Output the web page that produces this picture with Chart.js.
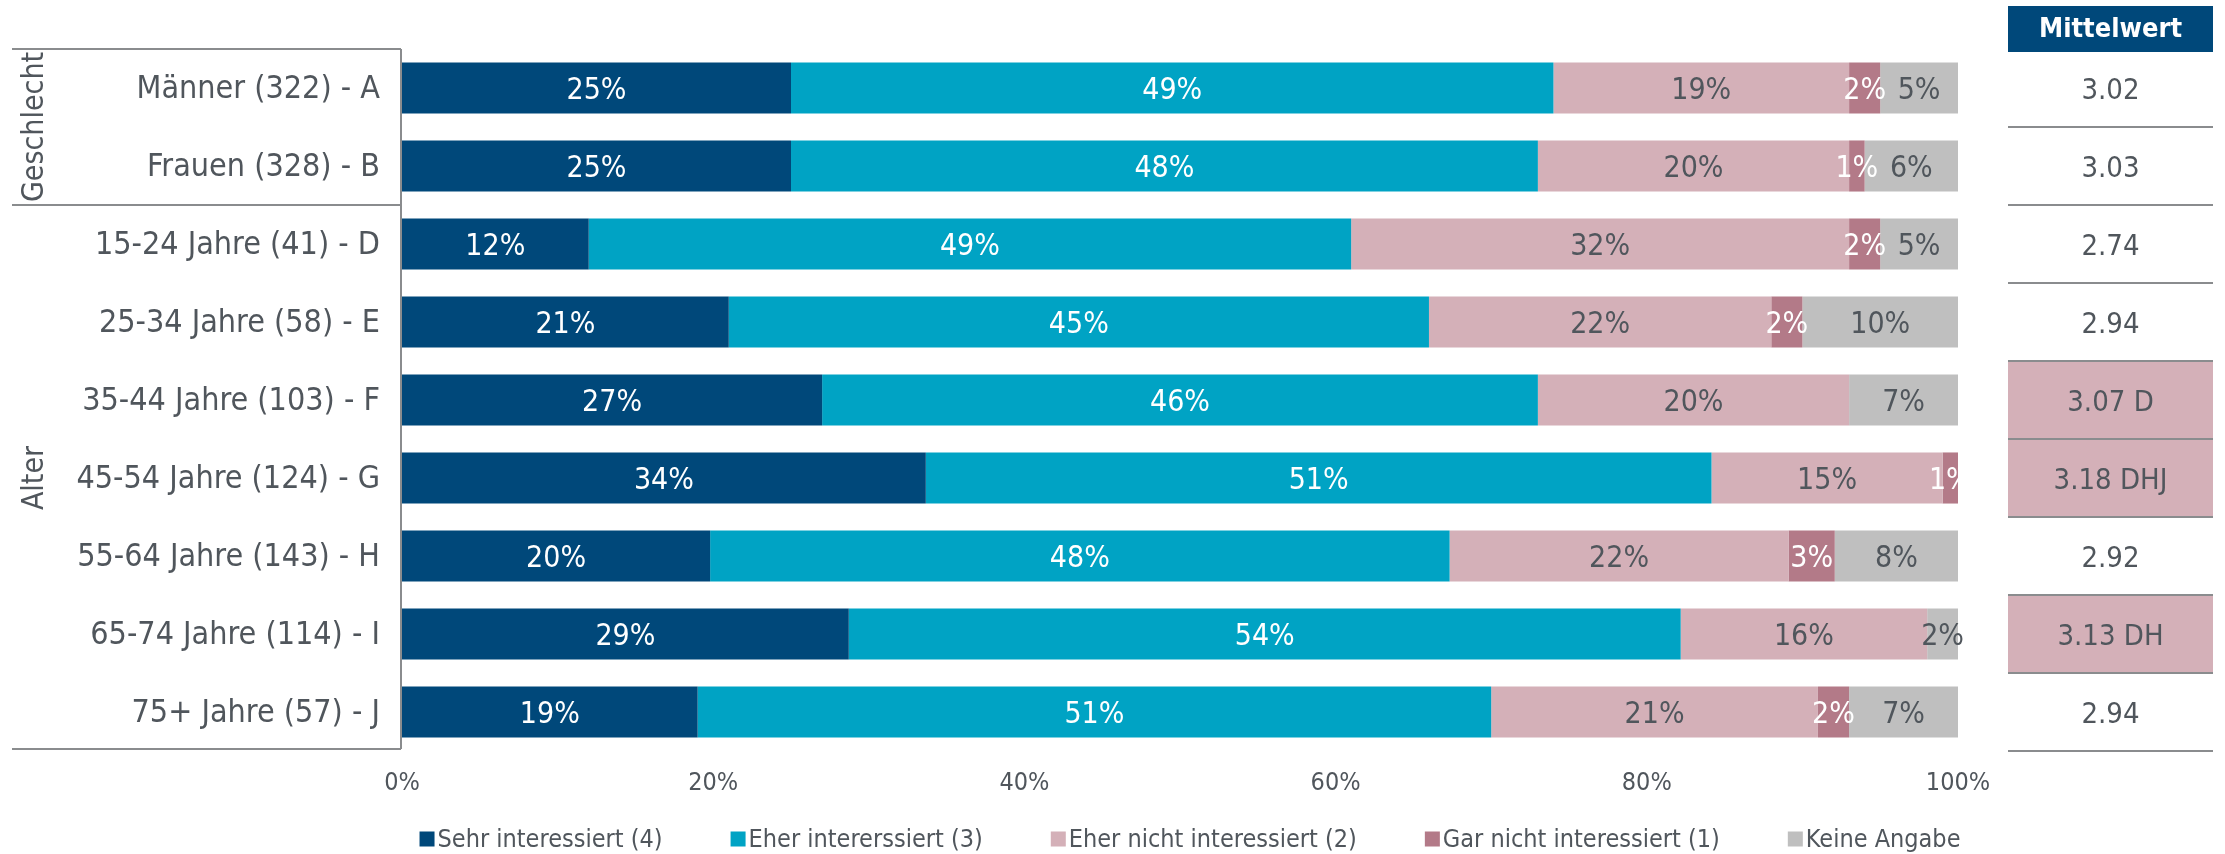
<!DOCTYPE html>
<html lang="de">
<head>
<meta charset="utf-8">
<title>Interesse nach Geschlecht und Alter</title>
<script src="https://cdn.jsdelivr.net/npm/chart.js@4.4.0/dist/chart.umd.min.js"></script>
<style>
  html, body { margin: 0; padding: 0; background: #fff; }
  #wrap { width: 2225px; height: 854px; }
</style>
</head>
<body>
<div id="wrap"><canvas id="stacked-bar" width="2225" height="854"></canvas></div>
<script>
// Data
var categories = ["Männer (322) - A", "Frauen (328) - B", "15-24 Jahre (41) - D", "25-34 Jahre (58) - E",
    "35-44 Jahre (103) - F", "45-54 Jahre (124) - G", "55-64 Jahre (143) - H", "65-74 Jahre (114) - I", "75+ Jahre (57) - J"];
var sehr      = [25, 25, 12, 21, 27, 34, 20, 29, 19];
var eher      = [49, 48, 49, 45, 46, 51, 48, 54, 51];
var eherNicht = [19, 20, 32, 22, 20, 15, 22, 16, 21];
var garNicht  = [2, 1, 2, 2, 0, 1, 3, 0, 2];
var keine     = [5, 6, 5, 10, 7, 0, 8, 2, 7];
var seriesNames = ["Sehr interessiert (4)", "Eher intererssiert (3)", "Eher nicht interessiert (2)", "Gar nicht interessiert (1)", "Keine Angabe"];
var mittelwert = ["3.02", "3.03", "2.74", "2.94", "3.07", "3.18", "2.92", "3.13", "2.94"];
var signifikant = ["", "", "", "", "D", "DHJ", "", "DH", ""];
var groupNames = ["Geschlecht", "Alter"];
var groupFirst = [0, 2];
var groupLast  = [1, 8];
var xTicks = [0, 20, 40, 60, 80, 100];

(function () {
    "use strict";

    var FONT = "'DejaVu Sans Condensed', 'DejaVu Sans', sans-serif";
    var TEXT = "#50565c";
    var LINE = "#8a8c8e";
    var colors = ["#00487a", "#00a3c4", "#d4b0b8", "#b37a88", "#bfbfbf"];
    var labelColors = ["#ffffff", "#ffffff", TEXT, "#ffffff", TEXT];
    var series = [sehr, eher, eherNicht, garNicht, keine];

    // rows add up to 100 or 101 after rounding, scale each row to 100
    var rowSums = categories.map(function (c, i) {
        return series.reduce(function (s, arr) { return s + arr[i]; }, 0);
    });

    var datasets = series.map(function (arr, d) {
        return {
            label: seriesNames[d],
            data: arr.map(function (v, i) { return v / rowSums[i] * 100; }),
            raw: arr,
            backgroundColor: colors[d],
            borderWidth: 0,
            barPercentage: 0.655,
            categoryPercentage: 1
        };
    });

    // Data labels
    var dataLabels = {
        id: "dataLabels",
        afterDatasetsDraw: function (chart) {
            var ctx = chart.ctx;
            ctx.save();
            ctx.font = "30px " + FONT;
            ctx.textAlign = "center";
            ctx.textBaseline = "middle";
            chart.data.datasets.forEach(function (ds, d) {
                chart.getDatasetMeta(d).data.forEach(function (bar, i) {
                    if (!ds.raw[i]) return;
                    ctx.fillStyle = labelColors[d];
                    ctx.fillText(ds.raw[i] + "%", (bar.x + bar.base) / 2, bar.y + 3);
                });
            });
            ctx.restore();
        }
    };

    // Group box, Mittelwert column, legend
    var extras = {
        id: "extras",
        afterDraw: function (chart) {
            var ctx = chart.ctx;
            var y = chart.scales.y;
            var area = chart.chartArea;
            var half = (y.getPixelForValue(1) - y.getPixelForValue(0)) / 2;
            ctx.save();

            // group box on the left
            ctx.strokeStyle = LINE;
            ctx.lineWidth = 2;
            ctx.beginPath();
            ctx.moveTo(12, area.top); ctx.lineTo(401, area.top);
            ctx.moveTo(401, area.top); ctx.lineTo(401, area.bottom - 2);
            ctx.moveTo(12, area.bottom - 2); ctx.lineTo(401, area.bottom - 2);
            for (var g = 1; g < groupNames.length; g++) {
                var sep = y.getPixelForValue(groupFirst[g]) - half;
                ctx.moveTo(12, sep); ctx.lineTo(401, sep);
            }
            ctx.stroke();

            ctx.fillStyle = TEXT;
            ctx.font = "30px " + FONT;
            ctx.textAlign = "center";
            ctx.textBaseline = "middle";
            groupNames.forEach(function (name, g) {
                var cy = (y.getPixelForValue(groupFirst[g]) + y.getPixelForValue(groupLast[g])) / 2;
                ctx.save();
                ctx.translate(35, cy);
                ctx.rotate(-Math.PI / 2);
                ctx.fillText(name, 0, 0);
                ctx.restore();
            });

            // Mittelwert column
            var colL = 2008, colR = 2213, colC = (colL + colR) / 2;
            ctx.fillStyle = colors[0];
            ctx.fillRect(colL, 6, colR - colL, 46);
            ctx.fillStyle = "#ffffff";
            ctx.font = "bold 27px " + FONT;
            ctx.fillText("Mittelwert", colC, 30);

            ctx.font = "29px " + FONT;
            mittelwert.forEach(function (m, i) {
                var cy = y.getPixelForValue(i);
                if (signifikant[i]) {
                    ctx.fillStyle = colors[2];
                    ctx.fillRect(colL, cy - half, colR - colL, half * 2);
                }
                ctx.fillStyle = TEXT;
                ctx.fillText(signifikant[i] ? m + " " + signifikant[i] : m, colC, cy + 3);
            });
            ctx.strokeStyle = LINE;
            ctx.lineWidth = 2;
            ctx.beginPath();
            mittelwert.forEach(function (m, i) {
                var by = y.getPixelForValue(i) + half;
                ctx.moveTo(colL, by); ctx.lineTo(colR, by);
            });
            ctx.stroke();

            // legend
            ctx.font = "25px " + FONT;
            ctx.textAlign = "left";
            var box = 15, gap = 3, spacing = 68;
            var widths = seriesNames.map(function (n) { return ctx.measureText(n).width; });
            var total = widths.reduce(function (s, w) { return s + box + gap + w; }, 0) + spacing * (seriesNames.length - 1);
            var lx = (area.left + area.right) / 2 + 10 - total / 2;
            var ly = 839;
            seriesNames.forEach(function (n, d) {
                ctx.fillStyle = colors[d];
                ctx.fillRect(lx, ly - box / 2, box, box);
                ctx.fillStyle = TEXT;
                ctx.fillText(n, lx + box + gap, ly + 1);
                lx += box + gap + widths[d] + spacing;
            });

            ctx.restore();
        }
    };

    var ctx = document.getElementById("stacked-bar").getContext("2d");
    var myChart = new Chart(ctx, {
        type: "bar",
        data: {
            labels: categories,
            datasets: datasets
        },
        options: {
            indexAxis: "y",
            responsive: false,
            animation: false,
            devicePixelRatio: 1,
            layout: {
                padding: { top: 49, right: 267, left: 0, bottom: 0 }
            },
            plugins: {
                legend: { display: false },
                tooltip: { enabled: false }
            },
            scales: {
                x: {
                    stacked: true,
                    min: 0,
                    max: 100,
                    afterBuildTicks: function (scale) {
                        scale.ticks = xTicks.map(function (v) { return { value: v }; });
                    },
                    afterFit: function (scale) { scale.height = 103; },
                    ticks: {
                        color: TEXT,
                        font: { family: FONT, size: 25 },
                        padding: 17,
                        maxRotation: 0,
                        callback: function (v) { return v + "%"; }
                    },
                    grid: { display: false, drawTicks: false },
                    border: { display: false }
                },
                y: {
                    stacked: true,
                    afterFit: function (scale) { scale.width = 402; },
                    ticks: {
                        color: TEXT,
                        font: { family: FONT, size: 32 },
                        padding: 22,
                        labelOffset: 2
                    },
                    grid: { display: false, drawTicks: false },
                    border: { display: false }
                }
            }
        },
        plugins: [dataLabels, extras]
    });
})();
</script>
</body>
</html>
